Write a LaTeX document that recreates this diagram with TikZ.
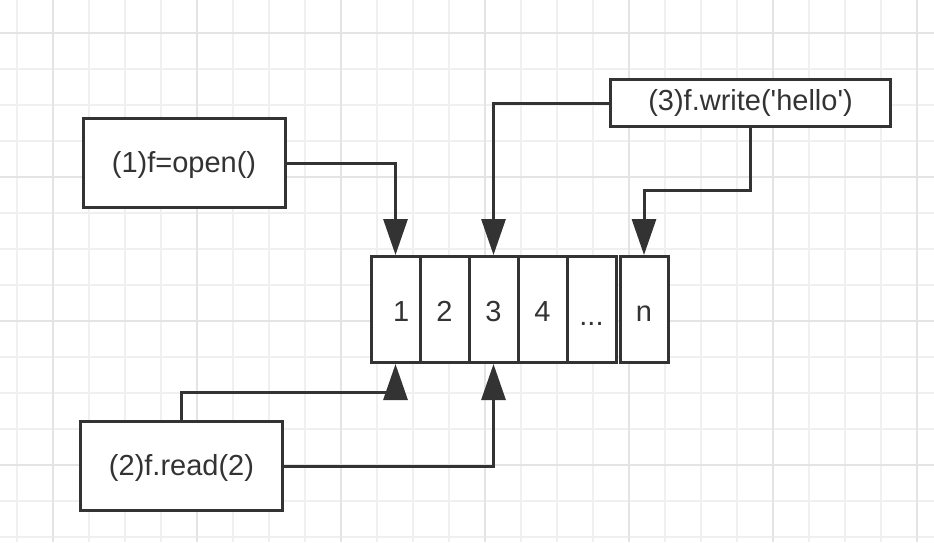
\documentclass[tikz,border=0pt]{standalone}
\usepackage{fontspec}
\setmainfont{Liberation Sans}
\usetikzlibrary{arrows.meta}
\definecolor{ink}{HTML}{333333}
\definecolor{gridminor}{HTML}{F0F0F0}
\definecolor{gridmajor}{HTML}{E4E4E4}
\begin{document}
\begin{tikzpicture}[x=0.75pt,y=-0.75pt,
  box/.style={draw=ink, line width=2.25pt, fill=white, inner sep=0pt,
    font=\fontsize{21.75}{26}\selectfont, text=ink},
  opbox/.style={box, minimum width=151.5pt, minimum height=66.75pt,
    text height=19.5pt, text depth=4.6pt},
  cell/.style={box, minimum width=36.75pt, minimum height=79.5pt,
    text height=17.5pt, text depth=0pt},
  conn/.style={draw=ink, line width=2.25pt, -{Triangle[length=27pt,width=18pt]}},
  gminor/.style={draw=gridminor, line width=1.1pt},
  gmajor/.style={draw=gridmajor, line width=1.1pt}]
% background and bounds
\fill[white] (0,0) rectangle (934,542);
\useasboundingbox (0,0) rectangle (934,542);
% grid
\foreach \i in {0,...,25} {
  \pgfmathsetmacro\xx{17+36*\i}
  \draw[gminor] (\xx,0) -- (\xx,542);
}
\foreach \i in {0,...,14} {
  \pgfmathsetmacro\yy{33+36*\i}
  \draw[gminor] (0,\yy) -- (934,\yy);
}
\foreach \xx in {53,197,341,485,629,773,917} {
  \draw[gmajor] (\xx,0) -- (\xx,542);
}
\foreach \yy in {33,177,321,465} {
  \draw[gmajor] (0,\yy) -- (934,\yy);
}
% boxes
\node[opbox] (b1) at (184,163) {(1)f=open()};
\node[opbox] (b2) at (181.5,466) {(2)f.read(2)};
\node[box, minimum width=210pt, minimum height=35.25pt] (b3) at (750.5,103)
  {(3)f.write(\textquotesingle hello\textquotesingle)};
% cells
\node[cell] (c1) at (395.5,309.5) {\hspace{0.4em}1};
\node[cell] (c2) at (444.5,309.5) {2};
\node[cell] (c3) at (493.5,309.5) {3};
\node[cell] (c4) at (542.5,309.5) {4};
\node[cell] (c5) at (591.5,309.5) {\raisebox{-3.5pt}{...}};
\node[cell, minimum width=36pt] (cn) at (644,309.5) {n};
% connectors
\draw[conn] (b1.east) -| (c1.north);
\draw[conn] (b2.north) |- (c1.south |- 0,392) -- (c1.south);
\draw[conn] (b2.east) -| (c3.south);
\draw[conn] (b3.west) -| (c3.north);
\draw[conn] (b3.south) |- (cn.north |- 0,190) -- (cn.north);
\end{tikzpicture}
\end{document}
